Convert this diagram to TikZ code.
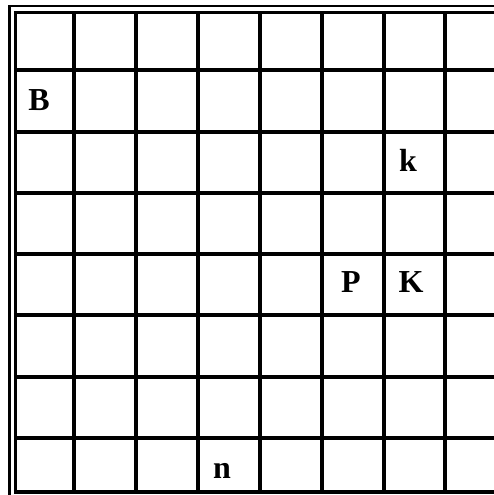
\documentclass[tikz,border=0pt]{standalone}
\usepackage{fontspec}
\setmainfont{Liberation Serif}
\begin{document}
\begin{tikzpicture}[x=1pt,y=-1pt,
  gridline/.style={line width=3.2pt,black},
  frameline/.style={line width=2.6pt,black},
  piece/.style={font=\bfseries\fontsize{32}{32}\selectfont,anchor=base,inner sep=0pt}]
\useasboundingbox (0,0) rectangle (494,495);
% outer frame (double line)
\draw[frameline] (9.5,495) -- (9.5,6) -- (494,6);
% inner frame and grid
\foreach \x in {15.5,74,136,198,260,322,384,445}
  \draw[gridline] (\x,12.5) -- (\x,492);
\foreach \y in {12.5,70,132,193,254,315,377,438,492}
  \draw[gridline] (13.9,\y) -- (494,\y);
% pieces
\node[piece] (B) at (39,110) {B};
\node[piece] (k) at (408,171) {k};
\node[piece] (P) at (351,292) {P};
\node[piece] (K) at (411,292) {K};
\node[piece] (n) at (222,478) {n};
\end{tikzpicture}
\end{document}
